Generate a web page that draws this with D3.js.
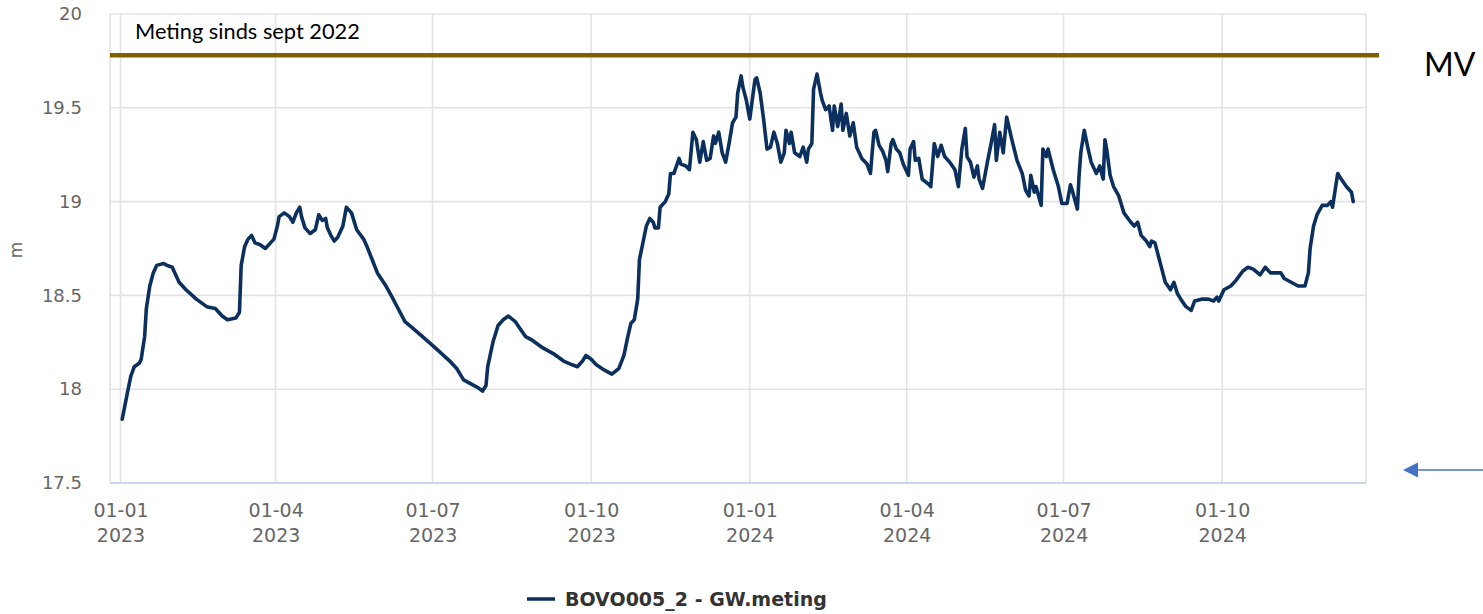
<!DOCTYPE html>
<html>
<head>
<meta charset="utf-8">
<script src="https://cdn.jsdelivr.net/npm/d3@7"></script>
<style>
  html, body { margin: 0; padding: 0; background: #ffffff; }
  svg { display: block; }
</style>
</head>
<body>
<svg id="chart" width="1483" height="614"></svg>
<script>
// Groundwater level readings for well BOVO005_2 (m)
const dates = [
  "2023-01-02","2023-01-05","2023-01-07","2023-01-09","2023-01-12","2023-01-13","2023-01-15","2023-01-16",
  "2023-01-18","2023-01-20","2023-01-22","2023-01-26","2023-01-28","2023-01-31","2023-02-04","2023-02-08",
  "2023-02-14","2023-02-20","2023-02-25","2023-03-01","2023-03-04","2023-03-09","2023-03-11","2023-03-12",
  "2023-03-14","2023-03-16","2023-03-18","2023-03-20","2023-03-23","2023-03-26","2023-03-29","2023-03-31",
  "2023-04-02","2023-04-03","2023-04-06","2023-04-09","2023-04-11","2023-04-13","2023-04-15","2023-04-16",
  "2023-04-18","2023-04-21","2023-04-24","2023-04-26","2023-04-28","2023-04-30","2023-05-01","2023-05-03",
  "2023-05-05","2023-05-07","2023-05-10","2023-05-12","2023-05-15","2023-05-18","2023-05-22","2023-05-24",
  "2023-05-27","2023-05-30","2023-06-04","2023-06-07","2023-06-11","2023-06-15","2023-06-19","2023-06-24",
  "2023-06-29","2023-07-05","2023-07-11","2023-07-15","2023-07-19","2023-07-23","2023-07-27","2023-07-30",
  "2023-08-01","2023-08-02","2023-08-05","2023-08-08","2023-08-11","2023-08-14","2023-08-18","2023-08-21",
  "2023-08-24","2023-08-28","2023-09-03","2023-09-09","2023-09-15","2023-09-20","2023-09-23","2023-09-26",
  "2023-09-28","2023-10-01","2023-10-04","2023-10-09","2023-10-13","2023-10-17","2023-10-20","2023-10-22",
  "2023-10-24","2023-10-26","2023-10-28","2023-10-29","2023-10-31","2023-11-02","2023-11-04","2023-11-06",
  "2023-11-07","2023-11-09","2023-11-10","2023-11-13","2023-11-15","2023-11-16","2023-11-18","2023-11-21",
  "2023-11-22","2023-11-25","2023-11-27","2023-11-29","2023-12-01","2023-12-03","2023-12-05","2023-12-07",
  "2023-12-09","2023-12-11","2023-12-12","2023-12-14","2023-12-16","2023-12-18","2023-12-20","2023-12-22",
  "2023-12-24","2023-12-25","2023-12-27","2023-12-28","2023-12-30","2024-01-01","2024-01-03","2024-01-04",
  "2024-01-05","2024-01-07","2024-01-09","2024-01-11","2024-01-13","2024-01-15","2024-01-17","2024-01-19",
  "2024-01-21","2024-01-22","2024-01-24","2024-01-25","2024-01-27","2024-01-30","2024-02-01","2024-02-03",
  "2024-02-04","2024-02-06","2024-02-07","2024-02-09","2024-02-11","2024-02-12","2024-02-14","2024-02-16",
  "2024-02-18","2024-02-19","2024-02-21","2024-02-23","2024-02-24","2024-02-26","2024-02-28","2024-03-01",
  "2024-03-03","2024-03-06","2024-03-09","2024-03-11","2024-03-13","2024-03-14","2024-03-16","2024-03-18",
  "2024-03-20","2024-03-21","2024-03-23","2024-03-24","2024-03-26","2024-03-28","2024-03-30","2024-04-02",
  "2024-04-03","2024-04-05","2024-04-06","2024-04-08","2024-04-10","2024-04-14","2024-04-15","2024-04-17",
  "2024-04-19","2024-04-21","2024-04-23","2024-04-26","2024-04-29","2024-05-01","2024-05-03","2024-05-05",
  "2024-05-06","2024-05-08","2024-05-10","2024-05-12","2024-05-13","2024-05-15","2024-05-18","2024-05-20",
  "2024-05-22","2024-05-23","2024-05-25","2024-05-27","2024-05-29","2024-06-01","2024-06-04","2024-06-07",
  "2024-06-09","2024-06-11","2024-06-12","2024-06-14","2024-06-15","2024-06-18","2024-06-19","2024-06-21",
  "2024-06-22","2024-06-25","2024-06-28","2024-06-30","2024-07-03","2024-07-05","2024-07-06","2024-07-09",
  "2024-07-10","2024-07-11","2024-07-13","2024-07-15","2024-07-17","2024-07-20","2024-07-22","2024-07-24",
  "2024-07-25","2024-07-26","2024-07-28","2024-07-30","2024-08-02","2024-08-05","2024-08-09","2024-08-11",
  "2024-08-13","2024-08-15","2024-08-18","2024-08-20","2024-08-21","2024-08-23","2024-08-25","2024-08-27",
  "2024-08-29","2024-09-01","2024-09-03","2024-09-05","2024-09-07","2024-09-10","2024-09-13","2024-09-15",
  "2024-09-19","2024-09-23","2024-09-26","2024-09-28","2024-09-29","2024-10-02","2024-10-06","2024-10-09",
  "2024-10-13","2024-10-16","2024-10-19","2024-10-23","2024-10-26","2024-10-29","2024-11-01","2024-11-04",
  "2024-11-06","2024-11-10","2024-11-14","2024-11-18","2024-11-20","2024-11-21","2024-11-23","2024-11-25",
  "2024-11-28","2024-12-01","2024-12-03","2024-12-04","2024-12-05","2024-12-07","2024-12-09","2024-12-12",
  "2024-12-15","2024-12-16"
];

const levels = [
  17.84,17.98,18.07,18.12,18.14,18.16,18.28,18.43,
  18.55,18.62,18.66,18.67,18.66,18.65,18.57,18.53,
  18.48,18.44,18.43,18.39,18.37,18.38,18.41,18.66,
  18.76,18.80,18.82,18.78,18.77,18.75,18.78,18.80,
  18.87,18.92,18.94,18.92,18.89,18.94,18.97,18.92,
  18.86,18.83,18.85,18.93,18.90,18.91,18.86,18.82,
  18.79,18.81,18.87,18.97,18.94,18.85,18.80,18.76,
  18.69,18.62,18.55,18.50,18.43,18.36,18.33,18.29,
  18.25,18.20,18.15,18.11,18.05,18.03,18.01,17.99,
  18.02,18.12,18.25,18.34,18.37,18.39,18.36,18.32,
  18.28,18.26,18.22,18.19,18.15,18.13,18.12,18.15,
  18.18,18.16,18.13,18.10,18.08,18.11,18.18,18.27,
  18.35,18.37,18.48,18.69,18.78,18.87,18.91,18.89,
  18.86,18.86,18.97,19.00,19.04,19.15,19.15,19.23,
  19.20,19.19,19.17,19.37,19.33,19.21,19.32,19.22,
  19.23,19.35,19.31,19.37,19.26,19.21,19.31,19.42,
  19.45,19.58,19.67,19.61,19.54,19.44,19.58,19.65,
  19.66,19.58,19.44,19.28,19.29,19.37,19.31,19.21,
  19.26,19.38,19.31,19.37,19.26,19.24,19.29,19.21,
  19.28,19.31,19.60,19.68,19.58,19.54,19.49,19.51,
  19.38,19.51,19.40,19.52,19.38,19.47,19.35,19.42,
  19.29,19.23,19.20,19.15,19.37,19.38,19.30,19.27,
  19.22,19.16,19.31,19.33,19.28,19.26,19.20,19.14,
  19.28,19.32,19.22,19.23,19.12,19.09,19.08,19.31,
  19.24,19.30,19.24,19.21,19.17,19.08,19.28,19.39,
  19.24,19.21,19.13,19.19,19.12,19.07,19.22,19.31,
  19.41,19.22,19.37,19.26,19.45,19.33,19.22,19.15,
  19.06,19.03,19.14,19.05,19.08,18.98,19.28,19.24,
  19.28,19.17,19.08,18.99,18.99,19.09,19.06,18.96,
  19.14,19.26,19.38,19.29,19.21,19.15,19.19,19.12,
  19.33,19.28,19.14,19.08,19.03,18.94,18.89,18.87,
  18.89,18.82,18.79,18.76,18.79,18.78,18.71,18.64,
  18.57,18.53,18.57,18.51,18.48,18.44,18.42,18.47,
  18.48,18.48,18.47,18.49,18.47,18.53,18.55,18.58,
  18.63,18.65,18.64,18.61,18.65,18.62,18.62,18.62,
  18.59,18.57,18.55,18.55,18.62,18.75,18.87,18.93,
  18.98,18.98,19.00,18.97,19.03,19.15,19.12,19.08,
  19.05,19.00
];

const yTickValues = [17.5, 18, 18.5, 19, 19.5, 20];
const xTickDates = ["2023-01-01","2023-04-01","2023-07-01","2023-10-01",
                    "2024-01-01","2024-04-01","2024-07-01","2024-10-01"];
const xDomain = ["2022-12-25T22:00:00Z", "2024-12-23T10:00:00Z"];
const yDomain = [17.5, 20];

const surfaceLevel = 19.78;          // maaiveld (MV)
const surfaceLabel = "MV";
const noteText = "Meting sinds sept 2022";
const seriesName = "BOVO005_2 - GW.meting";
const yAxisTitle = "m";

// ---- layout ----
const plot = { left: 110, right: 1366, top: 14, bottom: 483 };
const lineColor = "#0c305e";
const gridColor = "#e3e3e3";
const labelColor = "#666666";
const mvColor = "#7f6000";
const arrowColor = "#4472c4";

const svg = d3.select("#chart");
const parseDay = d3.utcParse("%Y-%m-%d");
const fmtDayMonth = d3.utcFormat("%d-%m");
const fmtYear = d3.utcFormat("%Y");

const x = d3.scaleUtc()
  .domain(xDomain.map(s => new Date(s)))
  .range([plot.left, plot.right]);
const y = d3.scaleLinear()
  .domain(yDomain)
  .range([plot.bottom, plot.top]);

const data = dates.map((d, i) => ({ date: parseDay(d), value: levels[i] }));
const xTicks = xTickDates.map(parseDay);

// horizontal grid lines
svg.append("g")
  .selectAll("line")
  .data(yTickValues)
  .join("line")
  .attr("x1", plot.left).attr("x2", plot.right)
  .attr("y1", d => y(d)).attr("y2", d => y(d))
  .attr("stroke", gridColor).attr("stroke-width", 1.6);

// vertical grid lines
svg.append("g")
  .selectAll("line")
  .data(xTicks)
  .join("line")
  .attr("x1", d => x(d)).attr("x2", d => x(d))
  .attr("y1", plot.top).attr("y2", plot.bottom)
  .attr("stroke", gridColor).attr("stroke-width", 1.6);

// plot border sides
svg.append("line")
  .attr("x1", plot.left).attr("x2", plot.left)
  .attr("y1", plot.top).attr("y2", plot.bottom)
  .attr("stroke", gridColor).attr("stroke-width", 1.6);
svg.append("line")
  .attr("x1", plot.right).attr("x2", plot.right)
  .attr("y1", plot.top).attr("y2", plot.bottom)
  .attr("stroke", gridColor).attr("stroke-width", 1.6);

// x axis baseline
svg.append("line")
  .attr("x1", plot.left).attr("x2", plot.right)
  .attr("y1", plot.bottom).attr("y2", plot.bottom)
  .attr("stroke", "#ccd6eb").attr("stroke-width", 2);

// y axis labels
const yAxis = d3.axisLeft(y).tickValues(yTickValues).tickSize(0).tickPadding(0)
  .tickFormat(d => String(d));
svg.append("g")
  .attr("transform", `translate(82,0)`)
  .call(yAxis)
  .call(g => g.select(".domain").remove())
  .selectAll("text")
  .attr("fill", labelColor)
  .attr("font-family", "'DejaVu Sans', Verdana, sans-serif")
  .attr("font-size", 18);

// x axis labels (day-month over year)
const xAxis = d3.axisBottom(x).tickValues(xTicks).tickSize(0).tickFormat("");
const xg = svg.append("g")
  .attr("transform", `translate(0,${plot.bottom})`)
  .call(xAxis)
  .call(g => g.select(".domain").remove());
xg.selectAll(".tick").append("text")
  .attr("text-anchor", "middle")
  .attr("fill", labelColor)
  .attr("font-family", "'DejaVu Sans', Verdana, sans-serif")
  .attr("font-size", 19)
  .each(function(d) {
    const t = d3.select(this);
    t.append("tspan").attr("x", 0).attr("y", 34).text(fmtDayMonth(d));
    t.append("tspan").attr("x", 0).attr("y", 59).text(fmtYear(d));
  });

// y axis title
svg.append("text")
  .attr("transform", "translate(22,250) rotate(-90)")
  .attr("text-anchor", "middle")
  .attr("fill", labelColor)
  .attr("font-family", "'DejaVu Sans', Verdana, sans-serif")
  .attr("font-size", 17)
  .text(yAxisTitle);

// groundwater series
svg.append("defs").append("clipPath").attr("id", "plotClip")
  .append("rect")
  .attr("x", plot.left).attr("y", plot.top)
  .attr("width", plot.right - plot.left).attr("height", plot.bottom - plot.top);

const line = d3.line()
  .x(d => x(d.date))
  .y(d => y(d.value));

svg.append("path")
  .datum(data)
  .attr("clip-path", "url(#plotClip)")
  .attr("fill", "none")
  .attr("stroke", lineColor)
  .attr("stroke-width", 3.6)
  .attr("stroke-linejoin", "round")
  .attr("stroke-linecap", "round")
  .attr("d", line);

// surface level (MV) reference line
svg.append("line")
  .attr("x1", plot.left).attr("x2", 1379)
  .attr("y1", y(surfaceLevel)).attr("y2", y(surfaceLevel))
  .attr("stroke", mvColor).attr("stroke-width", 4.5);

svg.append("text")
  .attr("x", 135).attr("y", 39)
  .attr("fill", "#000000")
  .attr("font-family", "Lato, 'Open Sans', sans-serif")
  .attr("font-size", 21.8)
  .text(noteText);

svg.append("text")
  .attr("x", 1424).attr("y", y(surfaceLevel) + 21)
  .attr("fill", "#000000")
  .attr("font-family", "Lato, 'Open Sans', sans-serif")
  .attr("font-size", 32)
  .text(surfaceLabel);

// pointer arrow at the lower right
svg.append("line")
  .attr("x1", 1416).attr("x2", 1483)
  .attr("y1", 470).attr("y2", 470)
  .attr("stroke", arrowColor).attr("stroke-width", 1.6);
svg.append("path")
  .attr("d", "M1403,470 L1418,462.5 L1418,477.5 Z")
  .attr("fill", arrowColor);

// legend
const legend = svg.append("g").attr("transform", "translate(527,599)");
legend.append("line")
  .attr("x1", 0).attr("x2", 28)
  .attr("y1", 0).attr("y2", 0)
  .attr("stroke", lineColor).attr("stroke-width", 3.5);
legend.append("text")
  .attr("x", 38).attr("y", 7)
  .attr("fill", "#333333")
  .attr("font-family", "'DejaVu Sans', Verdana, sans-serif")
  .attr("font-weight", "bold")
  .attr("font-size", 19)
  .text(seriesName);
</script>
</body>
</html>
